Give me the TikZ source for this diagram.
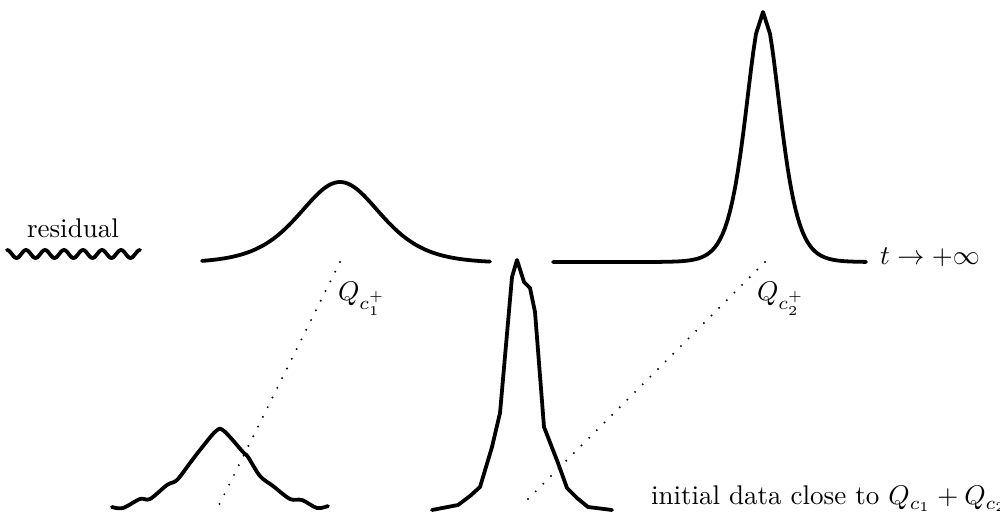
\documentclass[tikz,border=0pt]{standalone}
\begin{document}
\begin{tikzpicture}[x=0.37pt,y=-0.37pt,
  curve/.style={line width=1.4pt,line join=round,line cap=round},
  dots/.style={line width=0.8pt,line cap=round,dash pattern=on 0pt off 4pt},
  lbl/.style={inner sep=0pt,outer sep=0pt},
  declare function={sechsq(\u)=4*exp(-2*abs(\u))/(1+exp(-2*abs(\u)))^2;}]
\useasboundingbox (0,0) rectangle (1000,516);
% residual
\draw[curve] plot[domain=7:140,samples=120] (\x,{254-4*cos((\x-7)*18.947)});
\node[lbl,anchor=base west] (res) at (27,238) {residual};
% first soliton
\draw[curve] plot[domain=202:490,samples=90] (\x,{263-81*sechsq((\x-340)/55)});
% second soliton
\draw[curve] plot[domain=553:756,samples=80] (\x,{262-250*sechsq((\x-763)/23)})
  -- (763,12) -- plot[domain=770:866,samples=50] (\x,{262-250*sechsq((\x-763)/23)});
\node[lbl,anchor=base west] (tinf) at (880,265) {$t\to+\infty$};
% labels
\node[lbl,anchor=base west] (q1) at (338,301) {$Q_{c_1^+}$};
\node[lbl,anchor=base west] (q2) at (757,301) {$Q_{c_2^+}$};
% dotted lines
\coordinate (a1) at (340,262);
\coordinate (b1) at (219,505);
\coordinate (a2) at (765,262);
\coordinate (b2) at (522,505);
\draw[dots] (a1) -- (b1);
\draw[dots] (a2) -- (b2);
% perturbed bump
\draw[curve] plot[smooth,tension=0.55] coordinates {(112,507) (123,508) (140,499) (150,499) (167,485) (177,480) (190,463) (200,450) (216,431) (224,431) (243,452) (248,457) (260,476) (273,486) (290,499) (302,500) (317,508) (328,506)};
% perturbed spike
\draw[curve] plot coordinates {(432,510) (458,505) (470,496) (480,487) (492,447) (500,413) (512,277) (517,260) (524,282) (530,288) (535,312) (544,427) (558,463) (567,488) (577,498) (588,507) (612,510)};
\node[lbl,anchor=base west] (init) at (651,505) {initial data close to $Q_{c_1}+Q_{c_2}$};
\end{tikzpicture}
\end{document}
